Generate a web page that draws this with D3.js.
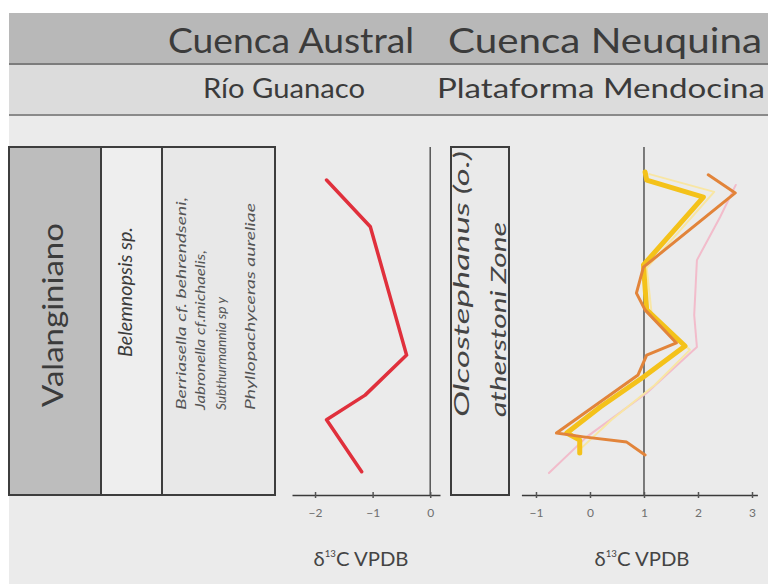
<!DOCTYPE html>
<html>
<head>
<meta charset="utf-8">
<script src="https://cdn.jsdelivr.net/npm/d3@7"></script>
<style>
  body { margin: 0; background: #ffffff; }
  svg text { font-family: Lato, "Open Sans", sans-serif; }
</style>
</head>
<body>
<svg id="chart" width="768" height="584"></svg>
<script>
// ---- content -------------------------------------------------------------
const basinNames   = ["Cuenca Austral", "Cuenca Neuquina"];
const sectionNames = ["Río Guanaco", "Plataforma Mendocina"];
const stageName    = "Valanginiano";
const australTaxon = "Belemnopsis sp.";
const australFauna = [
  "Berriasella cf. behrendseni,",
  "Jabronella cf.michaelis,",
  "Subthurmannia sp y",
  "Phyllopachyceras aureliae"
];
const neuquinaZone = ["Olcostephanus (o.)", "atherstoni Zone"];
const australTicks  = [-2, -1, 0];
const neuquinaTicks = [-1, 0, 1, 2, 3];

// stratigraphic position (relative height, 0 = base, 100 = top) and δ13C (‰ VPDB)
const guanacoHeight = [90.5, 77.1, 40.2, 28.7, 21.6, 6.7];
const guanacoD13C   = [-1.80, -1.04, -0.41, -1.13, -1.80, -1.19];

const mendozaPinkHeight = [89.1, 79.9, 67.5, 51.7, 42.5, 29.3, 16.7, 6.3];
const mendozaPinkD13C   = [2.70, 2.41, 1.98, 1.93, 1.98, 1.05, -0.06, -0.76];

const mendozaPaleHeight = [92.2, 87.1, 65.2, 50.9, 41.7, 31.6, 21.6, 12.9];
const mendozaPaleD13C   = [1.10, 2.30, 1.05, 1.15, 1.85, 1.20, 0.40, -0.20];

const mendozaYellowHeight = [92.8, 90.5, 85.6, 66.1, 53.2, 42.8, 33.9, 25.3, 17.8, 15.8, 12.1];
const mendozaYellowD13C   = [1.02, 1.05, 2.10, 0.99, 1.05, 1.76, 0.99, 0.19, -0.43, -0.19, -0.19];

const mendozaOrangeHeight = [92.0, 86.8, 65.5, 58.0, 53.2, 43.7, 40.2, 34.5, 17.8, 16.7, 15.2, 11.5];
const mendozaOrangeD13C   = [2.19, 2.69, 0.99, 0.86, 1.02, 1.60, 1.05, 0.89, -0.62, -0.12, 0.68, 1.02];

// ---- styling ------------------------------------------------------------
const mendozaSeries = [
  { h: mendozaPinkHeight,   v: mendozaPinkD13C,   color: "#f2bccb", width: 2 },
  { h: mendozaPaleHeight,   v: mendozaPaleD13C,   color: "#f8e6a4", width: 2 },
  { h: mendozaYellowHeight, v: mendozaYellowD13C, color: "#f4c21a", width: 5 },
  { h: mendozaOrangeHeight, v: mendozaOrangeD13C, color: "#e2843a", width: 3 }
];
const textColor = "#3b3b3b";

const svg = d3.select("#chart");

// backdrop and header bands
svg.append("rect").attr("x", 9).attr("y", 13).attr("width", 759).attr("height", 571).attr("fill", "#ebebeb");
svg.append("rect").attr("x", 9).attr("y", 13).attr("width", 759).attr("height", 51).attr("fill", "#b8b8b8");
svg.append("rect").attr("x", 9).attr("y", 65).attr("width", 759).attr("height", 50).attr("fill", "#dcdcdc");
svg.append("line").attr("x1", 9).attr("x2", 768).attr("y1", 64).attr("y2", 64).attr("stroke", "#7c7c7c").attr("stroke-width", 2);
svg.append("line").attr("x1", 9).attr("x2", 768).attr("y1", 115).attr("y2", 115).attr("stroke", "#8a8a8a").attr("stroke-width", 2);

const headerSpecs = [
  { t: basinNames[0],   x: 168, y: 53, len: 246, size: 34 },
  { t: basinNames[1],   x: 448, y: 53, len: 314, size: 34 },
  { t: sectionNames[0], x: 203, y: 98, len: 162, size: 26 },
  { t: sectionNames[1], x: 437, y: 98, len: 328, size: 26 }
];
svg.selectAll("text.header").data(headerSpecs).join("text")
  .attr("class", "header")
  .attr("x", d => d.x).attr("y", d => d.y)
  .attr("font-size", d => d.size)
  .attr("textLength", d => d.len).attr("lengthAdjust", "spacingAndGlyphs")
  .attr("fill", textColor)
  .text(d => d.t);

// biostratigraphic columns
const colTop = 147, colBase = 495;
const boxes = [
  { x0: 9,   x1: 101, fill: "#bdbdbd" },
  { x0: 101, x1: 162, fill: "#eeeeee" },
  { x0: 162, x1: 275, fill: "#e8e8e8" },
  { x0: 451, x1: 509, fill: "#eaeaea" }
];
svg.selectAll("rect.box").data(boxes).join("rect")
  .attr("class", "box")
  .attr("x", d => d.x0).attr("y", colTop)
  .attr("width", d => d.x1 - d.x0).attr("height", colBase - colTop)
  .attr("fill", d => d.fill)
  .attr("stroke", "#3d3d3d").attr("stroke-width", 2);

function vText(str, x, yPos, opts) {
  const t = svg.append("text")
    .attr("transform", `translate(${x},${yPos}) rotate(-90)`)
    .attr("fill", opts.color || textColor)
    .attr("font-size", opts.size)
    .attr("text-anchor", opts.anchor || "middle")
    .text(str);
  if (opts.italic) t.attr("font-style", "italic");
  if (opts.len) t.attr("textLength", opts.len).attr("lengthAdjust", "spacingAndGlyphs");
  return t;
}
vText(stageName, 63, 315, { size: 29, len: 184 });
vText(australTaxon, 132, 292, { size: 19, italic: true, len: 130 });
const faunaX = [186, 205, 226, 255];
const faunaLen = [213, 160, 113, 207];
australFauna.forEach((s, i) => vText(s, faunaX[i], 410, { size: 13, italic: true, anchor: "start", len: faunaLen[i], color: "#555" }));
const zoneX = [469, 506];
const zoneLen = [266, 195];
neuquinaZone.forEach((s, i) => vText(s, zoneX[i], 417, { size: 22, italic: true, anchor: "start", len: zoneLen[i], color: "#444" }));

// δ13C panels
const yScale = d3.scaleLinear().domain([0, 100]).range([colBase, colTop]);

function panel(domain, range, ticks, refValue, titleX) {
  const x = d3.scaleLinear().domain(domain).range(range);
  const g = svg.append("g").attr("transform", `translate(0,${colBase})`);
  g.call(d3.axisBottom(x).tickValues(ticks).tickFormat(d3.format("d")).tickSizeOuter(0).tickSizeInner(3).tickPadding(10));
  g.select(".domain").attr("stroke", "#3a3a3a").attr("stroke-width", 1.6);
  g.selectAll(".tick line").attr("y1", -3).attr("y2", 3).attr("stroke", "#555").attr("stroke-width", 1.5);
  g.selectAll(".tick text").attr("fill", "#6f6f6f").attr("font-size", 12).attr("font-family", "Lato, sans-serif");
  svg.append("line")
    .attr("x1", x(refValue)).attr("x2", x(refValue))
    .attr("y1", colTop).attr("y2", colBase)
    .attr("stroke", "#555").attr("stroke-width", 1.5);
  const title = svg.append("text")
    .attr("x", titleX).attr("y", 566)
    .attr("text-anchor", "middle")
    .attr("font-size", 19).attr("fill", "#444")
    .attr("textLength", 95).attr("lengthAdjust", "spacingAndGlyphs");
  title.append("tspan").text("δ");
  title.append("tspan").attr("font-size", 9).attr("dy", -9).text("13");
  title.append("tspan").attr("dy", 9).text("C VPDB");
  return x;
}

const xA = panel([-2.4, 0.17], [292, 440], australTicks, 0, 361);
const xN = panel([-1.27, 3.1], [521.4, 757.4], neuquinaTicks, 1, 642);

const lineGen = xs => d3.line().x(d => xs(d[1])).y(d => yScale(d[0])).curve(d3.curveLinear);

svg.append("path")
  .datum(d3.zip(guanacoHeight, guanacoD13C))
  .attr("d", lineGen(xA))
  .attr("fill", "none").attr("stroke", "#e0303c").attr("stroke-width", 3.5)
  .attr("stroke-linejoin", "round").attr("stroke-linecap", "round");

svg.selectAll("path.neuquina").data(mendozaSeries).join("path")
  .attr("class", "neuquina")
  .attr("d", s => lineGen(xN)(d3.zip(s.h, s.v)))
  .attr("fill", "none")
  .attr("stroke", s => s.color).attr("stroke-width", s => s.width)
  .attr("stroke-linejoin", "round").attr("stroke-linecap", "round");
</script>
</body>
</html>
